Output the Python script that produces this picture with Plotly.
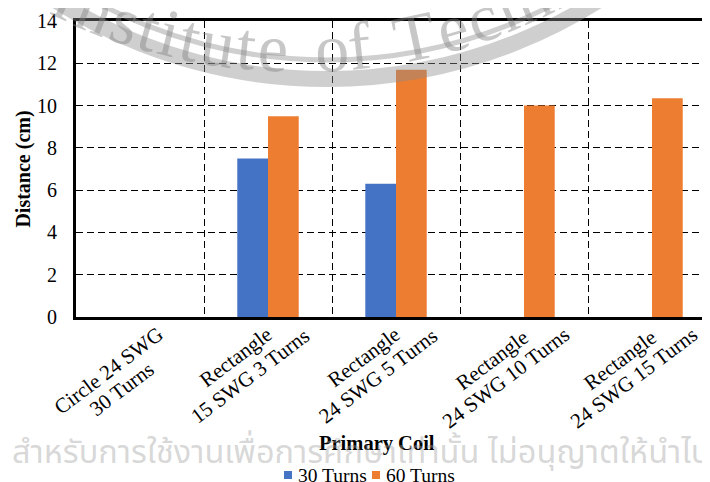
import math
import plotly.graph_objects as go

# ---------------- data ----------------
categories = [
    "Circle 24 SWG<br>30 Turns",
    "Rectangle<br>15 SWG 3 Turns",
    "Rectangle<br>24 SWG 5 Turns",
    "Rectangle<br>24 SWG 10 Turns",
    "Rectangle<br>24 SWG 15 Turns",
]
series_names = ["30 Turns", "60 Turns"]
turns30 = [0, 7.5, 6.3, 0, 0]
turns60 = [0, 9.5, 11.7, 10.0, 10.35]
y_ticks = [0, 2, 4, 6, 8, 10, 12, 14]
x_title = "Primary Coil"
y_title = "Distance (cm)"
watermark_arc_text = "Institute of Technology"
watermark_line_text = "สำหรับการใช้งานเพื่อการศึกษาเท่านั้น ไม่อนุญาตให้นำไปใช้"

# ---------------- layout geometry ----------------
# design coordinates are window pixels; the page body adds an 8px offset
OFF = 8
WIN_W, WIN_H = 710, 482
L, T, R, B = 76, 21, 710, 317
PW, PH = R - L, B - T
FIG_W, FIG_H = WIN_W - OFF, WIN_H - OFF


def px(x):
    return (x - L) / PW


def py(y):
    return (B - y) / PH


FONT = "Liberation Serif"
colors = ["#4472C4", "#ED7D31"]

# approximate Times-like advance widths (em) used to lay out rotated / curved text
EM = {"C": .667, "i": .278, "r": .333, "c": .444, "l": .278, "e": .444, " ": .25, "S": .556,
      "W": .944, "G": .722, "T": .611, "u": .5, "n": .5, "s": .389, "R": .667, "t": .278,
      "a": .444, "g": .5, "I": .333, "o": .5, "f": .333, "h": .5, "y": .5}


def text_w(s, size):
    return sum(EM.get(ch, .5) for ch in s) * size


fig = go.Figure()
for name, vals, col in zip(series_names, [turns30, turns60], colors):
    fig.add_trace(go.Bar(x=categories, y=vals, name=name, showlegend=False,
                         marker=dict(color=col, line=dict(width=0))))

annotations = []
shapes = []

# category labels: rotated, lines centred, tops of the text aligned just below the axis
ang = 37
sa, ca = math.sin(math.radians(ang)), math.cos(math.radians(ang))
lab_fs, lh, hh = 21, 23, 7.6
ink_top, dx_center = 326, -25
for c in categories:
    lines = c.split("<br>")
    n = len(lines)
    ks = [i - (n - 1) / 2 for i in range(n)]
    lens = [text_w(s, lab_fs) for s in lines]
    cy = ink_top + max(ln / 2 * sa + hh * ca - k * lh * ca for ln, k in zip(lens, ks))
    for s, k in zip(lines, ks):
        yc = cy + k * lh * ca
        annotations.append(dict(
            x=c, xref="x", y=0, yref="paper", text=s, showarrow=False,
            textangle=-ang, xanchor="center", yanchor="middle",
            xshift=dx_center + k * lh * sa, yshift=-(yc - B),
            font=dict(family=FONT, size=lab_fs, color="black"),
        ))

# x-axis title
annotations.append(dict(
    x=px(377), y=py(443), xref="paper", yref="paper", text="<b>%s</b>" % x_title,
    showarrow=False, xanchor="center", yanchor="middle",
    font=dict(family=FONT, size=20.5, color="black"),
))

# legend (square swatch + name), drawn at the bottom centre
legend_x = [284, 372]
for name, col, lx in zip(series_names, colors, legend_x):
    shapes.append(dict(type="rect", xref="paper", yref="paper",
                       x0=px(lx), x1=px(lx + 8), y0=py(479), y1=py(471),
                       fillcolor=col, line=dict(width=0), layer="above"))
    annotations.append(dict(
        x=px(lx + 12), y=py(475), xref="paper", yref="paper", text=name,
        showarrow=False, xanchor="left", yanchor="middle",
        font=dict(family=FONT, size=19.5, color="black"),
    ))

# ---------------- watermark ----------------
wm_color = "rgba(140,140,140,0.42)"
for (cx, cy_, rr, lw) in [(327, -429, 508, 16), (327, -429, 489, 5)]:
    shapes.append(dict(type="circle", xref="paper", yref="paper",
                       x0=px(cx - rr), x1=px(cx + rr), y0=py(cy_ + rr), y1=py(cy_ - rr),
                       line=dict(color=wm_color, width=lw), layer="above"))

# curved seal text
tcx, tcy, tr = 300, -499, 548
fs = 68
spacing = 2
arc_em = dict(EM, **{" ": .34, "f": .25})
pos = []
acc = 0.0
for ch in watermark_arc_text:
    w = arc_em.get(ch, .5) * fs
    pos.append(acc + w / 2)
    acc += w + spacing
s_first = math.asin((126 - tcx) / tr) * tr
offset = s_first - pos[2]
for ch, p in zip(watermark_arc_text, pos):
    if ch == " ":
        continue
    s = p + offset
    phi = s / tr
    x = tcx + tr * math.sin(phi)
    y = tcy + tr * math.cos(phi)
    annotations.append(dict(
        x=px(x), y=py(y), xref="paper", yref="paper", text=ch, showarrow=False,
        textangle=-math.degrees(phi), xanchor="center", yanchor="middle",
        font=dict(family=FONT, size=fs, color="rgba(130,130,130,0.45)"),
    ))

annotations.append(dict(
    x=px(10), y=py(453), xref="paper", yref="paper", text=watermark_line_text,
    showarrow=False, xanchor="left", yanchor="middle",
    font=dict(family="Noto Sans Thai, Noto Sans", size=32.5,
              color="rgba(160,160,160,0.42)"),
))

dash = "7px,4px"
fig.update_layout(
    width=FIG_W, height=FIG_H,
    margin=dict(l=L - OFF, r=WIN_W - R, t=T - OFF, b=WIN_H - B, pad=0, autoexpand=False),
    paper_bgcolor="white", plot_bgcolor="white",
    barmode="group", bargap=0.52, bargroupgap=0,
    font=dict(family=FONT, size=20, color="black"),
    xaxis=dict(
        type="category", range=[-0.5, 4.453], tickson="boundaries", automargin=False,
        showgrid=True, gridcolor="black", gridwidth=1.3, griddash=dash,
        showline=True, linecolor="black", linewidth=3, mirror=True,
        showticklabels=False, ticks="", fixedrange=True,
    ),
    yaxis=dict(
        range=[0, 14], tickvals=y_ticks, ticktext=[str(v) for v in y_ticks], automargin=False,
        showgrid=True, gridcolor="black", gridwidth=1.3, griddash=dash,
        zeroline=False, showline=True, linecolor="black", linewidth=3, mirror=False,
        ticks="", ticklabelstandoff=12,
        tickfont=dict(family=FONT, size=20, color="black"),
        title=dict(text="<b>%s</b>" % y_title, standoff=2,
                   font=dict(family=FONT, size=20, color="black")),
    ),
    annotations=annotations,
    shapes=shapes,
    showlegend=False,
)

fig.write_html("out.html")
